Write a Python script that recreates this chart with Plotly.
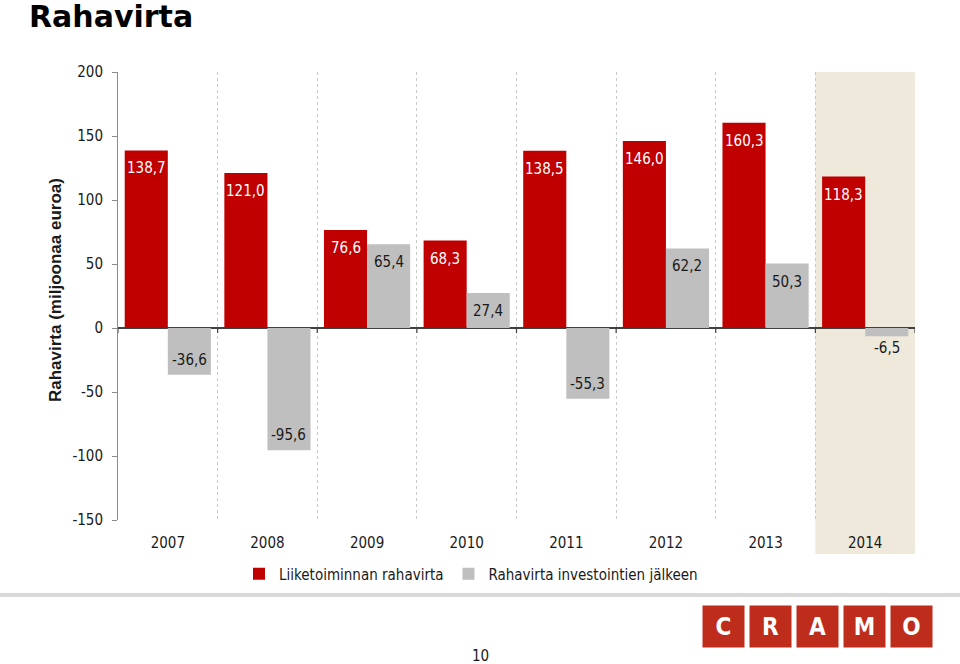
import plotly.graph_objects as go

years = ["2007", "2008", "2009", "2010", "2011", "2012", "2013", "2014"]
operating_cf = [138.7, 121.0, 76.6, 68.3, 138.5, 146.0, 160.3, 118.3]
cf_after_inv = [-36.6, -95.6, 65.4, 27.4, -55.3, 62.2, 50.3, -6.5]
series_names = ["Liiketoiminnan rahavirta", "Rahavirta investointien jälkeen"]
y_ticks = [-150, -100, -50, 0, 50, 100, 150, 200]
highlight_year = "2014"
logo_letters = ["C", "R", "A", "M", "O"]

FONT = "DejaVu Sans Condensed, Noto Sans, DejaVu Sans, sans-serif"
RED = "#C00000"
GRAY = "#BFBFBF"
TXT = "#1a1a1a"


def fi(v):
    return f"{v:.1f}".replace(".", ",")


# plot area geometry (pixels) used to place decorations in the margins
W, H = 960, 664
L, R, T, B = 118, 45, 72, 144
PW, PH = W - L - R, H - T - B
BARGAP = 0.135
HALF = PW / len(years) * (1 - BARGAP) / 4  # offset of each bar centre from category centre


def px(x):
    return (x - L) / PW


def py(y):
    return (H - B - y) / PH


fig = go.Figure()
fig.add_trace(go.Bar(x=years, y=operating_cf, name=series_names[0],
                     marker=dict(color=RED, line=dict(width=0)), hoverinfo="x+y"))
fig.add_trace(go.Bar(x=years, y=cf_after_inv, name=series_names[1],
                     marker=dict(color=GRAY, line=dict(width=0)), hoverinfo="x+y"))

shapes = []
hi = years.index(highlight_year)
shapes.append(dict(type="rect", xref="x", yref="paper",
                   x0=hi - 0.5, x1=hi + 0.5, y0=py(554), y1=1,
                   fillcolor="#EFE9DC", line=dict(width=0), layer="below"))
for i in range(len(years) + 1):
    shapes.append(dict(type="line", xref="x", yref="y",
                       x0=i - 0.5, x1=i - 0.5, y0=0, y1=-4,
                       line=dict(color="#404040", width=1.2)))
shapes.append(dict(type="line", xref="paper", yref="paper",
                   x0=px(0), x1=px(W), y0=py(595), y1=py(595),
                   line=dict(color="#D9D9D9", width=4)))

annotations = [
    dict(text="<b>Rahavirta</b>", xref="paper", yref="paper",
         x=px(27), y=py(17), xanchor="left", yanchor="middle", showarrow=False,
         font=dict(family="DejaVu Sans, sans-serif", size=30, color="black")),
    dict(text="<b>Rahavirta (miljoonaa euroa)</b>", xref="paper", yref="paper",
         x=px(55), y=py(290), xanchor="center", yanchor="middle", textangle=-90,
         showarrow=False,
         font=dict(family="Liberation Sans, Arial, sans-serif", size=17, color=TXT)),
    dict(text="10", xref="paper", yref="paper", x=px(480), y=py(656),
         xanchor="center", yanchor="middle", showarrow=False,
         font=dict(family=FONT, size=15, color=TXT)),
]

# value labels (x given as category index)
for i, v in enumerate(operating_cf):
    annotations.append(dict(text=fi(v), x=i, y=v, xref="x", yref="y",
                            xshift=-HALF, yshift=-18 if v >= 0 else 15,
                            xanchor="center", yanchor="middle", showarrow=False,
                            font=dict(family=FONT, size=15, color="white")))
for i, v in enumerate(cf_after_inv):
    if v >= 0:
        ys = -18
    elif abs(v) > 15:
        ys = 15
    else:
        ys = -12  # small bar: label just below it
    annotations.append(dict(text=fi(v), x=i, y=v, xref="x", yref="y",
                            xshift=HALF, yshift=ys,
                            xanchor="center", yanchor="middle", showarrow=False,
                            font=dict(family=FONT, size=15, color=TXT)))

for k, letter in enumerate(logo_letters):
    annotations.append(dict(
        text=f"<b>{letter}</b>", xref="paper", yref="paper",
        x=px(723.5 + 47 * k), y=py(626.5), xanchor="center", yanchor="middle",
        width=39, height=39, bgcolor="#BE2D1C", showarrow=False,
        font=dict(family="DejaVu Sans Condensed, DejaVu Sans, sans-serif", size=24, color="white"),
    ))

fig.update_layout(
    width=W, height=H,
    margin=dict(l=L, r=R, t=T, b=B, autoexpand=False),
    paper_bgcolor="white", plot_bgcolor="rgba(0,0,0,0)",
    barmode="group", bargap=BARGAP, bargroupgap=0,
    font=dict(family=FONT, size=15, color=TXT),
    showlegend=True,
    legend=dict(orientation="h", x=px(471), xanchor="center", y=py(574), yanchor="middle",
                font=dict(size=15, family=FONT, color=TXT), bgcolor="rgba(0,0,0,0)",
                itemwidth=30, traceorder="normal"),
    shapes=shapes, annotations=annotations,
    xaxis=dict(type="category", categoryorder="array", categoryarray=years,
               range=[-0.5, len(years) - 0.5], autorange=False,
               tickson="boundaries", showgrid=True,
               griddash="dot", gridcolor="#C8C8C8", gridwidth=1,
               showline=False, zeroline=False, ticks="", ticklabelstandoff=12,
               tickfont=dict(size=15, family=FONT, color=TXT)),
    yaxis=dict(range=[-150, 200], autorange=False, tickvals=y_ticks,
               ticktext=[str(t) for t in y_ticks],
               showgrid=False, showline=True, linecolor="#8C8C8C", linewidth=1,
               ticks="outside", ticklen=5, tickcolor="#8C8C8C", ticklabelstandoff=6,
               zeroline=True, zerolinecolor="#404040", zerolinewidth=2,
               tickfont=dict(size=15, family=FONT, color=TXT)),
)

fig.write_html("out.html", config={"displayModeBar": False},
               post_script="document.body.style.margin='0';")
